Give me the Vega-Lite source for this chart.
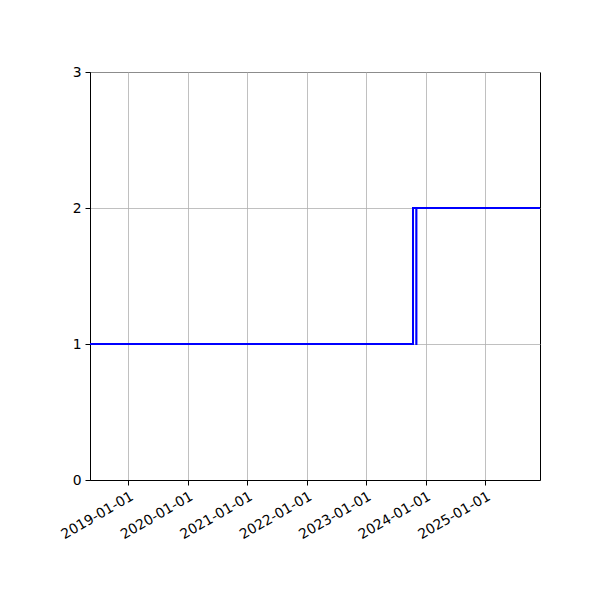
{
  "$schema": "https://vega.github.io/schema/vega-lite/v6.json",
  "autosize": {"type": "none"},
  "padding": {"left": 90, "top": 72, "right": 60, "bottom": 120},
  "width": 450,
  "height": 408,
  "background": "white",
  "config": {
    "view": {"stroke": "black", "strokeWidth": 1},
    "font": "DejaVu Sans"
  },
  "data": {
    "values": [
      {"date": "2018-05-10", "value": 1},
      {"date": "2023-10-15", "value": 2},
      {"date": "2023-11-04", "value": 1},
      {"date": "2023-11-05", "value": 2},
      {"date": "2025-12-03", "value": 2}
    ]
  },
  "mark": {"type": "line", "interpolate": "step-after", "color": "#0000ff", "strokeWidth": 2, "clip": true},
  "encoding": {
    "x": {
      "field": "date",
      "type": "temporal",
      "scale": {
        "type": "utc",
        "domain": [
          {"year": 2018, "month": 5, "date": 10, "utc": true},
          {"year": 2025, "month": 12, "date": 3, "utc": true}
        ],
        "nice": false
      },
      "axis": {
        "title": null,
        "values": [
          {"year": 2019, "month": 1, "date": 1, "utc": true},
          {"year": 2020, "month": 1, "date": 1, "utc": true},
          {"year": 2021, "month": 1, "date": 1, "utc": true},
          {"year": 2022, "month": 1, "date": 1, "utc": true},
          {"year": 2023, "month": 1, "date": 1, "utc": true},
          {"year": 2024, "month": 1, "date": 1, "utc": true},
          {"year": 2025, "month": 1, "date": 1, "utc": true}
        ],
        "labelExpr": "utcFormat(datum.value, '%Y-%m-%d')",
        "labelAngle": -30,
        "labelAlign": "right",
        "labelBaseline": "top",
        "labelFontSize": 13.9,
        "labelColor": "black",
        "labelPadding": 4,
        "labelFlush": false,
        "labelOverlap": false,
        "grid": true,
        "gridColor": "#b0b0b0",
        "gridWidth": 0.8,
        "domainColor": "black",
        "tickColor": "black",
        "tickSize": 5,
        "tickWidth": 1
      }
    },
    "y": {
      "field": "value",
      "type": "quantitative",
      "scale": {"domain": [0, 3], "nice": false, "zero": false},
      "axis": {
        "title": null,
        "values": [0, 1, 2, 3],
        "format": "d",
        "labelFontSize": 13.9,
        "labelColor": "black",
        "labelPadding": 4,
        "grid": true,
        "gridColor": "#b0b0b0",
        "gridWidth": 0.8,
        "domainColor": "black",
        "tickColor": "black",
        "tickSize": 5,
        "tickWidth": 1
      }
    }
  }
}
